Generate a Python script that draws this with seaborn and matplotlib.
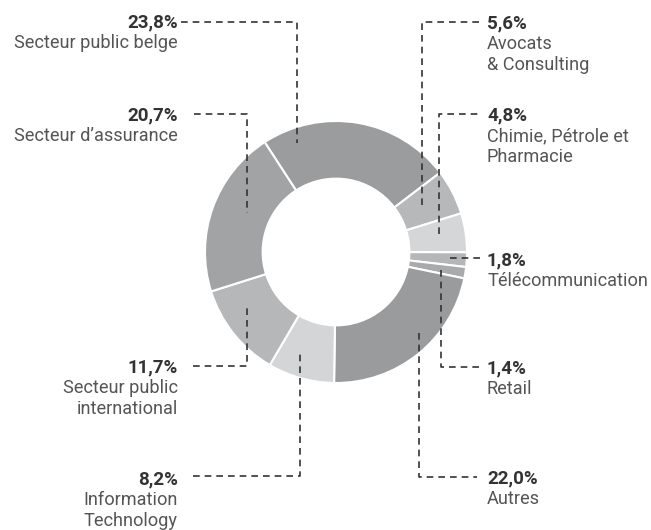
import matplotlib
matplotlib.use("Agg")
import matplotlib.pyplot as plt
import seaborn as sns

# data, clockwise from the top
sectors = ["Secteur public belge", "Avocats\n& Consulting", "Chimie, Pétrole et\nPharmacie",
           "Télécommunication", "Retail", "Autres", "Information\nTechnology",
           "Secteur public\ninternational", "Secteur d’assurance"]
shares = [23.8, 5.6, 4.8, 1.8, 1.4, 22.0, 8.2, 11.7, 20.7]
pct_labels = ["23,8%", "5,6%", "4,8%", "1,8%", "1,4%", "22,0%", "8,2%", "11,7%", "20,7%"]
greys = ["#9b9c9e", "#b7b8ba", "#d5d6d8", "#b5b6b8", "#a9aaac",
         "#9a9b9d", "#d4d5d7", "#b6b7b9", "#a2a3a5"]

W, H = 651, 530

# layout: leader-line path (pixel coords, y down), text anchor x, y of the percentage, side
leaders = [
    ([(181, 22), (297, 22), (297, 143)], 178, 22, "left"),
    ([(422, 205), (422, 22), (480, 22)], 487, 23, "right"),
    ([(439, 234), (439, 114), (480, 114)], 487, 115, "right"),
    ([(450, 258), (480, 258)], 487, 260, "right"),
    ([(441, 270), (441, 367), (480, 367)], 487, 368, "right"),
    ([(419, 333), (419, 477), (477, 477)], 487, 478, "right"),
    ([(193, 476), (300, 476), (300, 353)], 178, 479, "left"),
    ([(193, 366), (247, 366), (247, 307)], 178, 367, "left"),
    ([(194, 114), (247, 114), (247, 213)], 178, 115, "left"),
]

sns.set_theme(style="white")
plt.rcParams["font.family"] = ["Roboto", "DejaVu Sans"]

fig = plt.figure(figsize=(W / 100, H / 100), dpi=100)
ax = fig.add_axes([0, 0, 1, 1])

radius = 131
ax.pie(shares, colors=greys, startangle=123, counterclock=False,
       center=(336, H - 252), radius=radius, frame=True,
       wedgeprops=dict(width=radius * 0.44, edgecolor="white", linewidth=1.5))
ax.set_xlim(0, W)
ax.set_ylim(0, H)
ax.set_aspect("equal")
ax.axis("off")

for (path, tx, ty, side), pct, name in zip(leaders, pct_labels, sectors):
    xs = [p[0] for p in path]
    ys = [H - p[1] for p in path]
    ax.plot(xs, ys, color="#333333", lw=1.2, ls=(0, (4, 3)))
    ha = "right" if side == "left" else "left"
    ax.text(tx, H - ty, pct, ha=ha, va="center", fontsize=13.5,
            fontweight="bold", color="#333333")
    ax.text(tx, H - ty - 12, name, ha=ha, va="top", fontsize=13.1,
            color="#555555", linespacing=1.2, multialignment=ha)

fig.savefig("out.png", dpi=100)
